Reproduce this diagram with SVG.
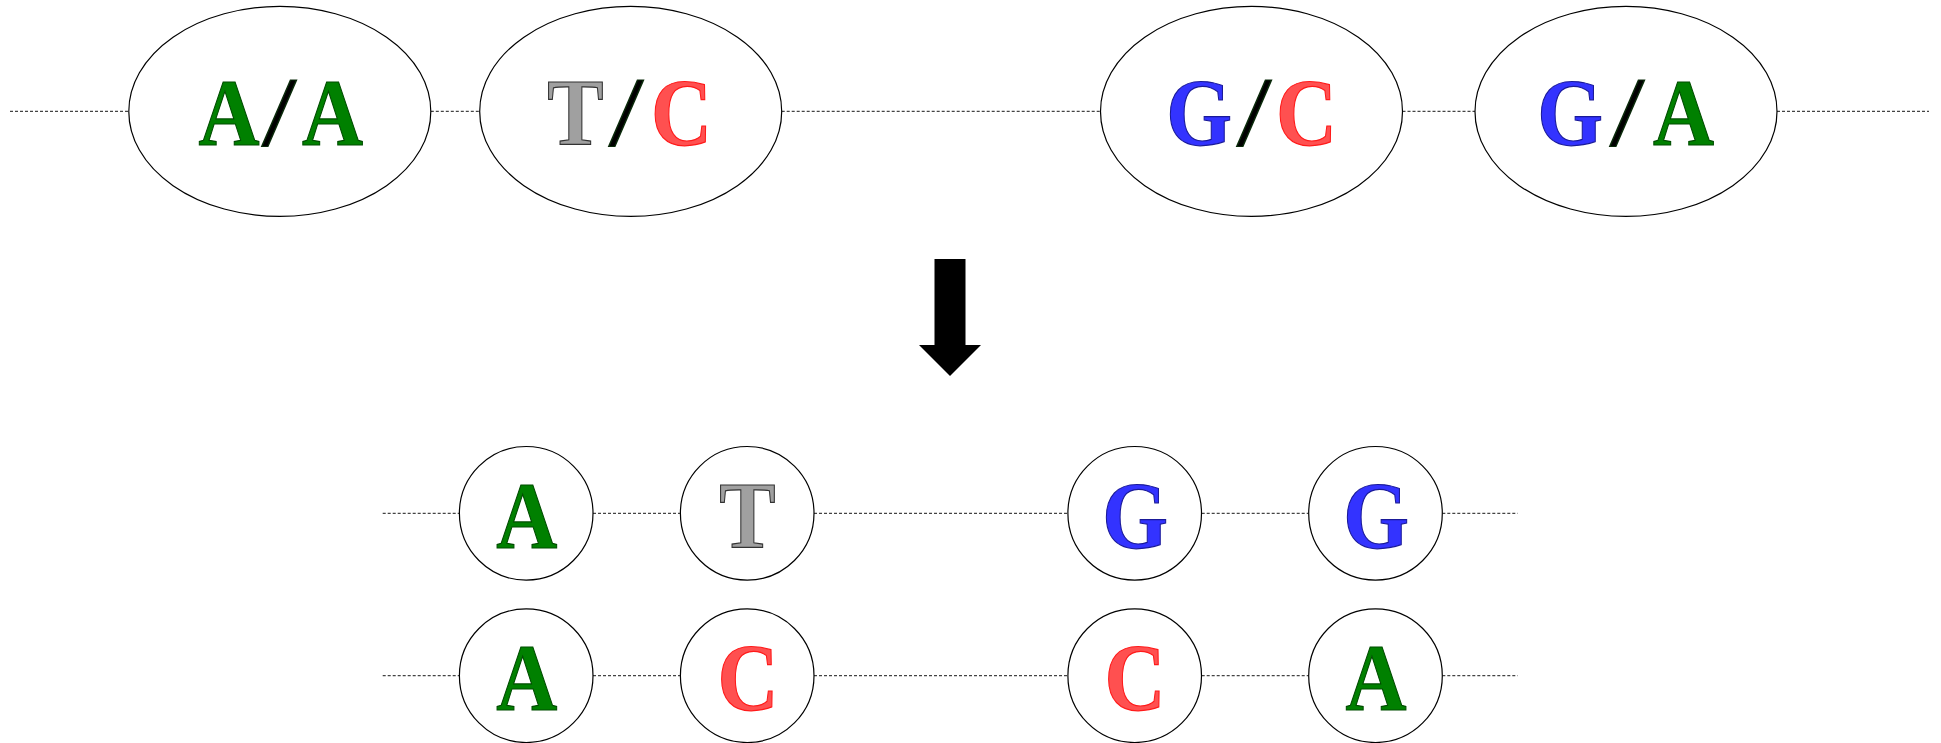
<svg xmlns="http://www.w3.org/2000/svg" width="1941" height="743" viewBox="0 0 1941 743">
<style>
.bg{fill:#ffffff}
.node{fill:#ffffff;stroke:#000000;stroke-width:1.2}
.conn{stroke:#444444;stroke-width:1.3;stroke-dasharray:3,2;fill:none}
.lbl{font-family:"Liberation Serif","Times New Roman",serif;font-weight:bold;font-size:96px;text-anchor:middle;stroke-width:1.2}
.a{fill:#008000;stroke:#004d00}
.t{fill:#a0a0a0;stroke:#333333}
.c{fill:#ff5050;stroke:#ff1a1a}
.g{fill:#3333ff;stroke:#1a1a99}
.s{fill:#000000;stroke:#0a2a0a;font-weight:normal;font-size:100px}
.arrow{fill:#000000}
</style>
<rect class="bg" x="0" y="0" width="1941" height="743"/>
<g id="connectors">
<line class="conn" x1="10" y1="111.4" x2="128.8" y2="111.4"/>
<line class="conn" x1="430.8" y1="111.4" x2="479.7" y2="111.4"/>
<line class="conn" x1="781.7" y1="111.4" x2="1100.5" y2="111.4"/>
<line class="conn" x1="1402.5" y1="111.4" x2="1475" y2="111.4"/>
<line class="conn" x1="1777" y1="111.4" x2="1929" y2="111.4"/>
<line class="conn" x1="382.7" y1="513.3" x2="459.3" y2="513.3"/>
<line class="conn" x1="593" y1="513.3" x2="680" y2="513.3"/>
<line class="conn" x1="814" y1="513.3" x2="1067.7" y2="513.3"/>
<line class="conn" x1="1201.7" y1="513.3" x2="1308.7" y2="513.3"/>
<line class="conn" x1="1442.3" y1="513.3" x2="1517.7" y2="513.3"/>
<line class="conn" x1="382.7" y1="675.7" x2="459.3" y2="675.7"/>
<line class="conn" x1="593" y1="675.7" x2="680" y2="675.7"/>
<line class="conn" x1="814" y1="675.7" x2="1067.7" y2="675.7"/>
<line class="conn" x1="1201.7" y1="675.7" x2="1308.7" y2="675.7"/>
<line class="conn" x1="1442.3" y1="675.7" x2="1517.7" y2="675.7"/>
</g>
<g id="g1">
<ellipse class="node" cx="279.8" cy="111.4" rx="151" ry="105"/>
<text class="lbl a" transform="translate(229,145) scale(0.88,1)">A</text>
<text class="lbl s" transform="translate(279,145) scale(1.25,1)">/</text>
<text class="lbl a" transform="translate(332.5,145) scale(0.88,1)">A</text>
</g>
<g id="g2">
<ellipse class="node" cx="630.7" cy="111.4" rx="151" ry="105"/>
<text class="lbl t" transform="translate(575.5,145) scale(0.88,1)">T</text>
<text class="lbl s" transform="translate(626,145) scale(1.25,1)">/</text>
<text class="lbl c" transform="translate(681.5,145) scale(0.88,1)">C</text>
</g>
<g id="g3">
<ellipse class="node" cx="1251.5" cy="111.4" rx="151" ry="105"/>
<text class="lbl g" transform="translate(1199,145) scale(0.88,1)">G</text>
<text class="lbl s" transform="translate(1254,145) scale(1.25,1)">/</text>
<text class="lbl c" transform="translate(1306.5,145) scale(0.88,1)">C</text>
</g>
<g id="g4">
<ellipse class="node" cx="1626" cy="111.4" rx="151" ry="105"/>
<text class="lbl g" transform="translate(1570,145) scale(0.88,1)">G</text>
<text class="lbl s" transform="translate(1627,145) scale(1.25,1)">/</text>
<text class="lbl a" transform="translate(1683.5,145) scale(0.88,1)">A</text>
</g>
<g id="arrow">
<polygon class="arrow" points="934.5,259 965.5,259 965.5,345 981,345 950,376 919,345 934.5,345"/>
</g>
<g id="h1a">
<circle class="node" cx="526.2" cy="513.3" r="66.8"/>
<text class="lbl a" transform="translate(526.7,547.7) scale(0.88,1)">A</text>
</g>
<g id="h1t">
<circle class="node" cx="747.2" cy="513.3" r="66.8"/>
<text class="lbl t" transform="translate(747.5,547.7) scale(0.88,1)">T</text>
</g>
<g id="h1g1">
<circle class="node" cx="1134.7" cy="513.3" r="66.8"/>
<text class="lbl g" transform="translate(1135,547.7) scale(0.88,1)">G</text>
</g>
<g id="h1g2">
<circle class="node" cx="1375.5" cy="513.3" r="66.8"/>
<text class="lbl g" transform="translate(1376,547.7) scale(0.88,1)">G</text>
</g>
<g id="h2a">
<circle class="node" cx="526.2" cy="675.7" r="66.8"/>
<text class="lbl a" transform="translate(526.7,709.5) scale(0.88,1)">A</text>
</g>
<g id="h2c1">
<circle class="node" cx="747.2" cy="675.7" r="66.8"/>
<text class="lbl c" transform="translate(748,709.5) scale(0.88,1)">C</text>
</g>
<g id="h2c2">
<circle class="node" cx="1134.7" cy="675.7" r="66.8"/>
<text class="lbl c" transform="translate(1135,709.5) scale(0.88,1)">C</text>
</g>
<g id="h2a2">
<circle class="node" cx="1375.5" cy="675.7" r="66.8"/>
<text class="lbl a" transform="translate(1376,709.5) scale(0.88,1)">A</text>
</g>
</svg>
